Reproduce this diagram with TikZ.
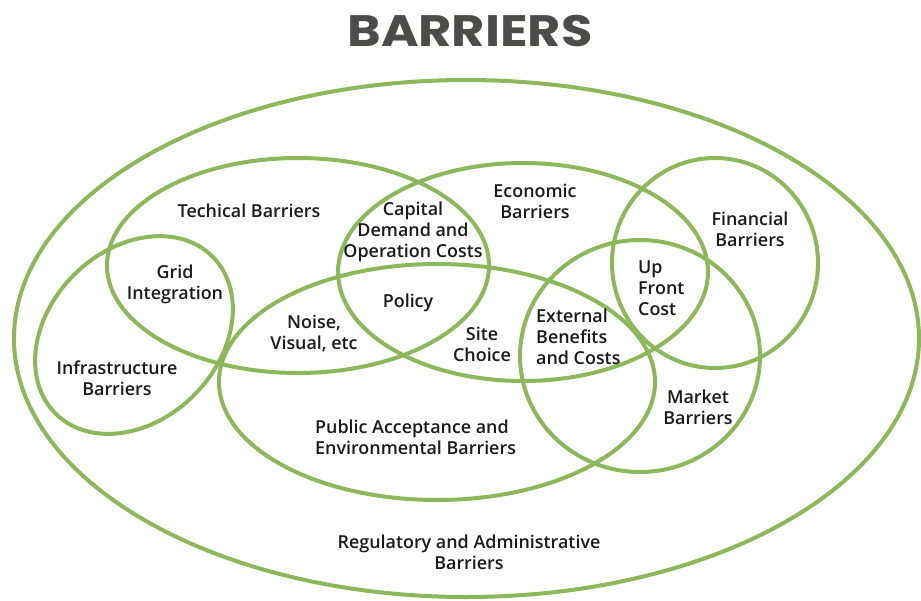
\documentclass[tikz,border=0pt]{standalone}
\usepackage{fontspec}
\setmainfont{Open Sans}
% semibold face for the labels where available, emboldened regular otherwise
\IfFontExistsTF{Open Sans SemiBold}{%
  \newfontfamily\labelfont{Open Sans SemiBold}\newcommand\labelsize{17.9}%
}{\IfFontExistsTF{OpenSans-Semibold}{%
  \newfontfamily\labelfont{OpenSans-Semibold}\newcommand\labelsize{17.9}%
}{%
  \newfontfamily\labelfont{Open Sans}[FakeBold=1.6]\newcommand\labelsize{18.5}%
}}
\newfontfamily\titlefont{Poppins}
\definecolor{ringgreen}{RGB}{141,183,91}
\definecolor{labelink}{RGB}{26,26,26}
\definecolor{titlegray}{RGB}{76,76,72}
\tikzset{
  ring/.style={draw=ringgreen, line width=4pt},
  lbl/.style={text=labelink, font=\labelfont\fontsize{\labelsize}{21}\selectfont, align=center, inner sep=0pt},
  lbll/.style={lbl, align=left, anchor=west},
}
\begin{document}
\begin{tikzpicture}[x=1pt,y=-1pt]
\useasboundingbox (0,0) rectangle (921,600);
% title
\node[font=\titlefont\bfseries\fontsize{44}{44}\selectfont, text=titlegray, inner sep=0pt, xscale=1.16] (title) at (470,31) {BARRIERS};
% rings
\draw[ring] (466.5,338.5) ellipse [x radius=452.5, y radius=258.5]; % regulatory
\draw[ring] (298,265.5) ellipse [x radius=191, y radius=107.5];     % technical
\draw[ring] (523,272) ellipse [x radius=185, y radius=109];         % economic
\draw[ring] (437,382) ellipse [x radius=218, y radius=118];         % public acceptance
\draw[ring] (715,263) ellipse [x radius=103, y radius=105];         % financial
\draw[ring] (640,356) ellipse [x radius=120, y radius=116];         % market
\draw[ring] (134,335) ellipse [x radius=111, y radius=85, rotate=45]; % infrastructure
% labels
\node[lbl] (tech) at (249,211) {Techical Barriers};
\node[lbl] (grid) at (175,284) {Grid\\Integration};
\node[lbl] (infra) at (117,378) {Infrastructure\\Barriers};
\node[lbl] (noise) at (314,333) {Noise,\\Visual, etc};
\node[lbl] (capital) at (413,232) {Capital\\Demand and\\Operation Costs};
\node[lbl] (policy) at (408,303) {Policy};
\node[lbl] (site) at (482,344) {Site\\Choice};
\node[lbl] (econ) at (535,201) {Economic\\Barriers};
\node[lbll] (ext) at (536,337) {External\\Benefits\\and Costs};
\node[lbll] (upfront) at (638,288) {Up\\Front\\Cost};
\node[lbl] (fin) at (750,229) {Financial\\Barriers};
\node[lbl] (market) at (698,407) {Market\\Barriers};
\node[lbll] (public) at (315,437) {Public Acceptance and\\Environmental Barriers};
\node[lbl] (reg) at (469,552) {Regulatory and Administrative\\Barriers};
\end{tikzpicture}
\end{document}
